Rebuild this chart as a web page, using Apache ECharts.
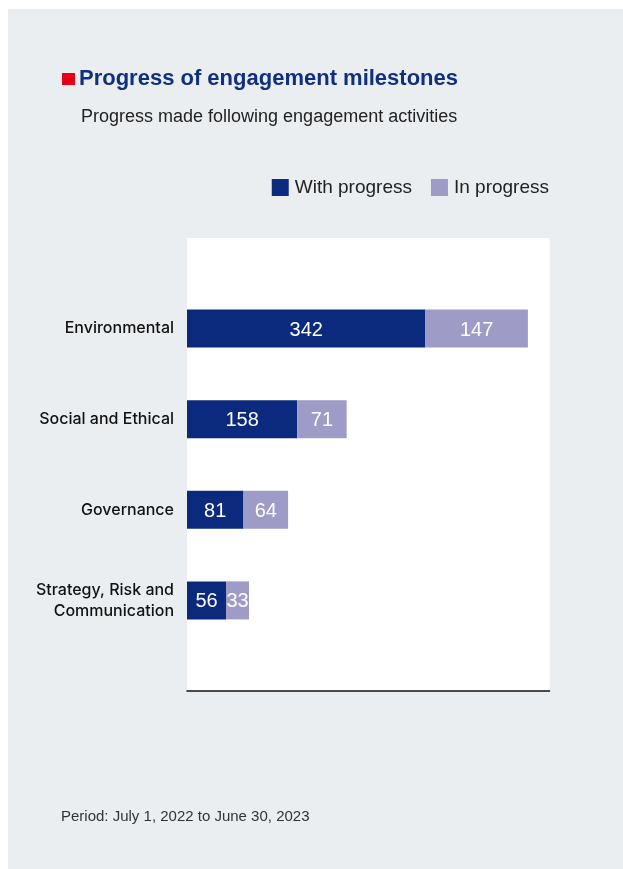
<!DOCTYPE html>
<html>
<head>
<meta charset="utf-8">
<script src="https://cdn.jsdelivr.net/npm/echarts@6/dist/echarts.min.js"></script>
<style>
  html, body { margin: 0; padding: 0; background: #ffffff; }
  #chart { position: absolute; left: 8px; top: 9px; width: 615px; height: 860px; }
</style>
</head>
<body>
<div id="chart"></div>
<script>
// Engagement milestones by theme, July 2022 – June 2023
const categories = ['Environmental', 'Social and Ethical', 'Governance', 'Strategy, Risk and\nCommunication'];
const withProgress = [342, 158, 81, 56];
const inProgress = [147, 71, 64, 33];
const seriesNames = ['With progress', 'In progress'];

const NAVY = '#0b2a7d';
const LILAC = '#9e9bc6';
const PANEL = '#ebeef1';
const SANS = '"Liberation Sans", Arial, Helvetica, sans-serif';

// One empty slot above and below the four themes keeps the bars spaced
// evenly inside the white plotting area.
const paddedCats = [''].concat(categories, ['']);
const pad = arr => ['-'].concat(arr, ['-']);

const chart = echarts.init(document.getElementById('chart'), null, { renderer: 'canvas' });

const valueLabel = {
  show: true,
  position: 'inside',
  color: '#ffffff',
  fontFamily: SANS,
  fontSize: 20,
  offset: [0, 1.5]
};

chart.setOption({
  backgroundColor: PANEL,
  animation: false,
  textStyle: { fontFamily: SANS },
  title: [
    {
      left: 49,
      top: 54,
      text: '{sq|}{t|Progress of engagement milestones}',
      textStyle: {
        rich: {
          sq: { width: 13, height: 12, backgroundColor: '#e3001b', verticalAlign: 'middle' },
          t: { fontFamily: SANS, fontSize: 22, fontWeight: 'bold', color: '#10307f', padding: [0, 0, 0, 4], verticalAlign: 'middle' }
        }
      }
    },
    {
      left: 68,
      top: 94,
      text: 'Progress made following engagement activities',
      textStyle: { fontFamily: SANS, fontSize: 18, fontWeight: 'normal', color: '#222222' }
    },
    {
      left: 48,
      top: 795,
      text: 'Period: July 1, 2022 to June 30, 2023',
      textStyle: { fontFamily: SANS, fontSize: 15, fontWeight: 'normal', color: '#333333' }
    }
  ],
  legend: {
    data: seriesNames,
    right: 69,
    top: 164,
    icon: 'rect',
    itemWidth: 17,
    itemHeight: 17,
    itemGap: 19,
    textStyle: { fontFamily: SANS, fontSize: 19, color: '#222222', padding: [0, 0, 0, 1] }
  },
  grid: {
    left: 179,
    top: 229,
    right: 73.5,
    bottom: 178,
    show: true,
    backgroundColor: '#ffffff',
    borderWidth: 0,
    containLabel: false
  },
  xAxis: {
    type: 'value',
    min: 0,
    max: 520,
    axisLine: { show: true, lineStyle: { color: '#111111', width: 1.5 } },
    axisTick: { show: false },
    axisLabel: { show: false },
    splitLine: { show: false }
  },
  yAxis: {
    type: 'category',
    data: paddedCats,
    inverse: true,
    boundaryGap: false,
    axisLine: { show: false },
    axisTick: { show: false },
    axisLabel: {
      interval: 0,
      margin: 13,
      fontFamily: 'Inter, ' + SANS,
      fontSize: 16,
      fontWeight: 500,
      lineHeight: 21,
      backgroundColor: 'rgba(255,255,255,0)',
      padding: [5, 0, 0, 0],
      color: '#111111',
      align: 'right'
    },
    splitLine: { show: false }
  },
  series: [
    {
      name: seriesNames[0],
      type: 'bar',
      stack: 'total',
      data: pad(withProgress),
      barWidth: 38,
      itemStyle: { color: NAVY },
      label: valueLabel
    },
    {
      name: seriesNames[1],
      type: 'bar',
      stack: 'total',
      data: pad(inProgress),
      barWidth: 38,
      itemStyle: { color: LILAC },
      label: valueLabel
    }
  ]
});
</script>
</body>
</html>
